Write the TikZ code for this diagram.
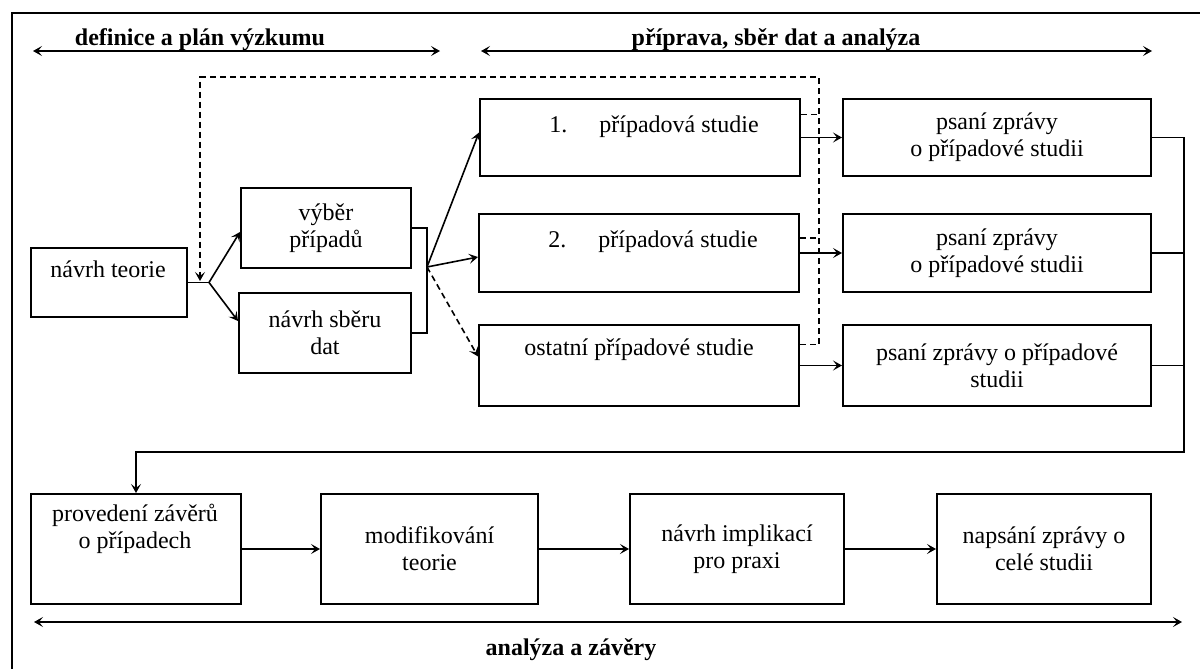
\documentclass[tikz,border=0pt]{standalone}
\usepackage{fontspec}
\setmainfont{Liberation Serif}
\usetikzlibrary{calc,arrows.meta}

\tikzset{
  box/.style={draw, line width=1pt, anchor=north west, inner sep=0pt, align=center},
  txt/.style={anchor=base, inner sep=0pt},
  head/.style={anchor=base, inner sep=0pt, font=\fontsize{12pt}{13.5pt}\selectfont\bfseries},
  conn/.style={line width=0.8pt},
  arr/.style={line width=0.8pt, -{Stealth[length=4.5pt,width=5pt,inset=2pt]}},
  both/.style={line width=0.8pt, {Stealth[length=4.5pt,width=5pt,inset=2pt]}-{Stealth[length=4.5pt,width=5pt,inset=2pt]}},
  dsh/.style={line width=0.8pt, dash pattern=on 3pt off 2pt},
}

\begin{document}
\begin{tikzpicture}[x=0.5pt, y=-0.5pt, font=\fontsize{12pt}{13.5pt}\selectfont]
		%%%%% START %%%%%
		\useasboundingbox (0,0) rectangle (1200,669);
		
		% frame
		\draw[line width=1.2pt] (1200,13) -- (12,13) -- (12,669);
		
		% phases on top
		\coordinate (h1a) at (33,51);
		\coordinate (h1b) at (440,51);
		\coordinate (h2a) at (481,51);
		\coordinate (h2b) at (1152,51);
		\draw[both] (h1a) -- (h1b);
		\draw[both] (h2a) -- (h2b);
		\node[head] (lbl1) at (200,45) {definice a plán výzkumu};
		\node[head] (lbl2) at (776,45) {příprava, sběr dat a analýza};
		
		% boxes
		\node[box, minimum width=78pt, minimum height=34.5pt] (teorie) at (30,247) {};
		\node[txt] (teorie-t) at (108,277) {návrh teorie};
		
		\node[box, minimum width=85pt, minimum height=40pt] (vyber) at (240,187) {výběr\\případů};
		\node[box, minimum width=86pt, minimum height=40pt] (sber) at (238,292) {návrh sběru\\dat};
		
		\node[box, minimum width=160pt, minimum height=38.5pt] (st1) at (479,98) {};
		\node[txt, anchor=base west] (st1-t) at (549,132) {1.\hspace{16pt}případová studie};
		\node[box, minimum width=160pt, minimum height=39pt] (st2) at (478,213) {};
		\node[txt, anchor=base west] (st2-t) at (548,247) {2.\hspace{16pt}případová studie};
		\node[box, minimum width=160pt, minimum height=40.5pt] (st3) at (478,324) {};
		\node[txt] (st3-t) at (639,355) {ostatní případové studie};
		
		\node[box, minimum width=154pt, minimum height=38.5pt] (zp1) at (842,98) {psaní zprávy\\o případové studii};
		\node[box, minimum width=154pt, minimum height=39pt] (zp2) at (842,213) {psaní zprávy\\o případové studii};
		\node[box, minimum width=154pt, minimum height=40.5pt] (zp3) at (842,324) {psaní zprávy o případové\\studii};
		
		\node[box, minimum width=105pt, minimum height=55pt] (zav) at (30,493) {};
		\node[inner sep=0pt, align=center] (zav-t) at (135,529) {provedení závěrů\\o případech};
		\node[box, minimum width=108.5pt, minimum height=55pt] (mod) at (320,493) {modifikování\\teorie};
		\node[box, minimum width=107pt, minimum height=55pt] (impl) at (629,493) {návrh implikací\\pro praxi};
		\node[box, minimum width=107pt, minimum height=55pt] (celk) at (936,493) {napsání zprávy o\\celé studii};
		
		% branching
		\coordinate (j1) at ($(teorie.east)+(21,0)$);
		\coordinate (j2) at (427,267);
		\draw[conn] (teorie.east) -- (j1);
		\draw[arr] (j1) -- ($(vyber.west)+(0,4)$);
		\draw[arr] (j1) -- ($(sber.west)+(0,-12)$);
		\draw[conn] (vyber.east) -| (j2);
		\draw[conn] (sber.east) -| (j2);
		\draw[arr] (j2) -- ($(st1.west)+(0,-5)$);
		\draw[arr] (j2) -- ($(st2.west)+(0,4)$);
		\draw[dsh, -{Stealth[length=4.5pt,width=5pt,inset=2pt]}] (j2) -- ($(st3.west)+(0,-9)$);
		
		% dashed loop back
		\coordinate (dtop) at (819,77);
		\coordinate (back) at (200,281);
		\draw[dsh, -{Stealth[length=4.5pt,width=5pt,inset=2pt]}] ($(st3.east)+(0,-21)$) -| (dtop) -| (back);
		\draw[dsh] ($(st1.east)+(0,-23)$) -- (dtop |- {$(st1.east)+(0,-23)$});
		\draw[dsh] ($(st2.east)+(0,-15)$) -- (dtop |- {$(st2.east)+(0,-15)$});
		
		% studies to reports
		\draw[arr] (st1.east) -- (zp1.west);
		\draw[arr] (st2.east) -- (zp2.west);
		\draw[arr] (st3.east) -- (zp3.west);
		
		% collect reports
		\coordinate (rc) at (1184,452);
		\draw[arr] (zp1.east) -| (rc) -| (zav.north);
		\draw[conn] (zp2.east) -- (zp2.east -| rc);
		\draw[conn] (zp3.east) -- (zp3.east -| rc);
		
		% bottom row
		\draw[arr] (zav.east) -- (mod.west);
		\draw[arr] (mod.east) -- (impl.west);
		\draw[arr] (impl.east) -- (celk.west);
		
		\coordinate (bl) at (34,622);
		\coordinate (br) at (1182,622);
		\draw[both] (bl) -- (br);
		\node[head] (lbl3) at (571,655) {analýza a závěry};
		
		%%%%% END %%%%%
\end{tikzpicture}
\end{document}
